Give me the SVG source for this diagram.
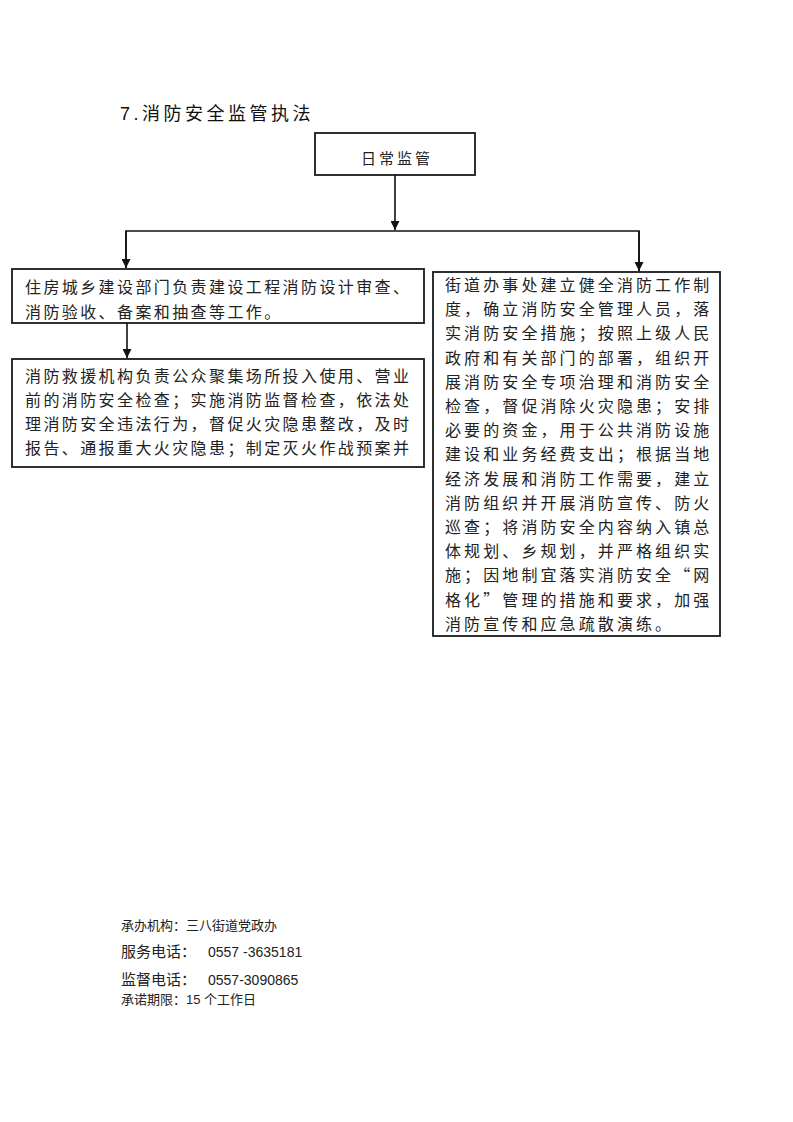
<svg xmlns="http://www.w3.org/2000/svg" width="793" height="1122" viewBox="0 0 793 1122">
<style>
.bg{fill:#ffffff}
.box{fill:#ffffff;stroke:#1a1a1a;stroke-width:1.8}
.cn{fill:#222222;font-family:"Liberation Sans","Noto Sans CJK SC",sans-serif;font-size:16px}
.cnl{letter-spacing:2.4px}
.cnr{letter-spacing:3.1px}
.q{font-family:"Noto Sans CJK SC",sans-serif}
.title{fill:#111111;font-family:"Liberation Sans","Noto Sans CJK SC",sans-serif;font-size:18px;letter-spacing:3.5px}
.ft{fill:#222222;font-family:"Liberation Sans","Noto Sans CJK SC",sans-serif}
.conn{stroke:#111111;stroke-width:1.6;fill:none}
</style>
<defs>
<marker id="arr" viewBox="0 0 10 10" refX="10" refY="5" markerWidth="9" markerHeight="9" markerUnits="userSpaceOnUse" orient="auto">
<path d="M0,0 L10,5 L0,10 Z" fill="#111111"/>
</marker>
</defs>
<rect class="bg" x="0" y="0" width="793" height="1122"/>

<text class="title" x="120" y="120">7.消防安全监管执法</text>

<g id="node-daily">
<rect class="box" x="315" y="133" width="160" height="42"/>
<text class="cn" x="397" y="164" text-anchor="middle" style="font-size:15px;letter-spacing:3px">日常监管</text>
</g>

<g id="node-housing">
<rect class="box" x="12" y="269" width="412" height="54"/>
<text class="cn cnl" x="25" y="293">住房城乡建设部门负责建设工程消防设计审查、</text>
<text class="cn cnl" x="25" y="318">消防验收、备案和抽查等工作。</text>
</g>

<g id="node-fire-rescue">
<rect class="box" x="12" y="359" width="412" height="108"/>
<text class="cn cnl" x="25" y="382">消防救援机构负责公众聚集场所投入使用、营业</text>
<text class="cn cnl" x="25" y="406">前的消防安全检查；实施消防监督检查，依法处</text>
<text class="cn cnl" x="25" y="430">理消防安全违法行为，督促火灾隐患整改，及时</text>
<text class="cn cnl" x="25" y="454">报告、通报重大火灾隐患；制定灭火作战预案并</text>
</g>

<g id="node-street">
<rect class="box" x="433" y="272" width="287" height="364"/>
<text class="cn cnr" x="445" y="291">街道办事处建立健全消防工作制</text>
<text class="cn cnr" x="445" y="315.2">度，确立消防安全管理人员，落</text>
<text class="cn cnr" x="445" y="339.4">实消防安全措施；按照上级人民</text>
<text class="cn cnr" x="445" y="363.6">政府和有关部门的部署，组织开</text>
<text class="cn cnr" x="445" y="387.8">展消防安全专项治理和消防安全</text>
<text class="cn cnr" x="445" y="412">检查，督促消除火灾隐患；安排</text>
<text class="cn cnr" x="445" y="436.2">必要的资金，用于公共消防设施</text>
<text class="cn cnr" x="445" y="460.4">建设和业务经费支出；根据当地</text>
<text class="cn cnr" x="445" y="484.6">经济发展和消防工作需要，建立</text>
<text class="cn cnr" x="445" y="508.8">消防组织并开展消防宣传、防火</text>
<text class="cn cnr" x="445" y="533">巡查；将消防安全内容纳入镇总</text>
<text class="cn cnr" x="445" y="557.2">体规划、乡规划，并严格组织实</text>
<text class="cn cnr q" x="445" y="581.4">施；因地制宜落实消防安全“网</text>
<text class="cn cnr q" x="445" y="605.6">格化”管理的措施和要求，加强</text>
<text class="cn cnr" x="445" y="629.8">消防宣传和应急疏散演练。</text>
</g>

<g id="connectors">
<line class="conn" x1="395" y1="175" x2="395" y2="230" marker-end="url(#arr)"/>
<polyline class="conn" points="126,268 126,231 639,231 639,271"/>
<line class="conn" x1="126" y1="231" x2="126" y2="268" marker-end="url(#arr)"/>
<line class="conn" x1="639" y1="231" x2="639" y2="271" marker-end="url(#arr)"/>
<line class="conn" x1="127" y1="323" x2="127" y2="358" marker-end="url(#arr)"/>
</g>

<g id="footer">
<text class="ft" x="121" y="930" style="font-size:13px">承办机构：三八街道党政办</text>
<text class="ft" x="121" y="957" style="font-size:15px">服务电话：<tspan x="208" style="font-size:14px">0557 -3635181</tspan></text>
<text class="ft" x="121" y="985" style="font-size:15px">监督电话：<tspan x="208" style="font-size:14px">0557-3090865</tspan></text>
<text class="ft" x="121" y="1004" style="font-size:13px">承诺期限：15 个工作日</text>
</g>
</svg>
